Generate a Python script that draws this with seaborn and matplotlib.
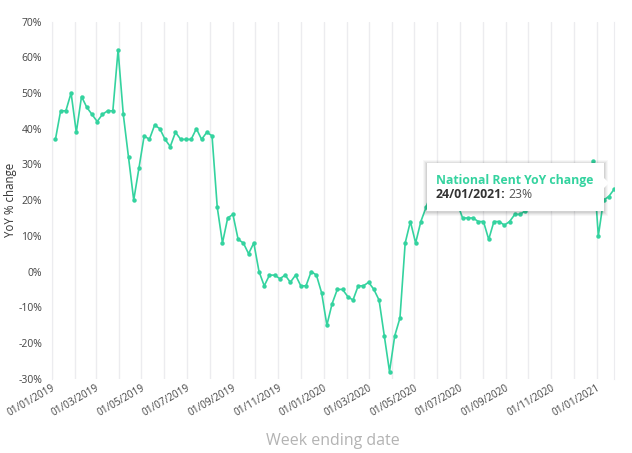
import matplotlib
matplotlib.use("Agg")
import matplotlib.pyplot as plt
import matplotlib.dates as mdates
import matplotlib.patches as mpatches
from matplotlib.ticker import FuncFormatter
import seaborn as sns
import pandas as pd

# weekly YoY change (values under the tooltip are estimates)
first_week = "2019-01-06"
yoy_change = [37, 45, 45, 50, 39, 49, 46, 44, 42, 44, 45, 45, 62, 44, 32, 20, 29, 38,
              37, 41, 40, 37, 35, 39, 37, 37, 37, 40, 37, 39, 38, 18, 8, 15, 16,
              9, 8, 5, 8, 0, -4, -1, -1, -2, -1, -3, -1, -4, -4, 0, -1, -6, -15,
              -9, -5, -5, -7, -8, -4, -4, -3, -5, -8, -18, -28, -18, -13, 8, 14, 8, 14,
              18,
              22, 23, 21, 20, 21, 19,
              15, 15, 15, 14, 14, 9, 14, 14, 13, 14, 16, 16,
              17, 18, 18, 19, 20, 20, 21, 22, 22, 21, 22, 24, 26,
              31, 10, 20, 21, 23]
y_ticks = [-30, -20, -10, 0, 10, 20, 30, 40, 50, 60, 70]
label_months = [1, 3, 5, 7, 9, 11]
tooltip_title = "National Rent YoY change"
tooltip_date = "24/01/2021:"
tooltip_value = "23%"

week_ending = pd.date_range(first_week, periods=len(yoy_change), freq="7D")
df = pd.DataFrame({"week": week_ending, "yoy": yoy_change})

GREEN = "#34d39f"
FONT = ["Open Sans", "DejaVu Sans"]

sns.set_style("white")
plt.rcParams["font.family"] = FONT

fig = plt.figure(figsize=(6.32, 4.53), dpi=100)
ax = fig.add_axes([0.0818, 0.164, 0.8897, 0.7885])

sns.lineplot(data=df, x="week", y="yoy", ax=ax, color=GREEN, linewidth=1.2,
             marker="o", markersize=3.2, markeredgewidth=0, zorder=3)

ax.set_xlim(pd.Timestamp("2019-01-01"), df["week"].iloc[-1])
ax.set_ylim(-30, 70)
ax.set_yticks(y_ticks)
ax.yaxis.set_major_formatter(FuncFormatter(lambda v, p: f"{v:.0f}%"))

ax.xaxis.set_major_locator(mdates.MonthLocator(bymonth=label_months))
ax.xaxis.set_minor_locator(mdates.MonthLocator())
ax.xaxis.set_major_formatter(mdates.DateFormatter("%d/%m/%Y"))
ax.grid(True, axis="x", which="both", color="#ececef", linewidth=1.0)
ax.grid(False, axis="y")

ax.tick_params(axis="x", which="both", length=0, labelsize=7.2, labelcolor="#444444", pad=3)
ax.tick_params(axis="y", length=4, color="#e6e6e6", labelsize=7.5, labelcolor="#444444", pad=3)
for lbl in ax.get_xticklabels():
    lbl.set_rotation(30)
    lbl.set_ha("right")
    lbl.set_rotation_mode("anchor")

for side in ["top", "bottom"]:
    ax.spines[side].set_visible(False)
for side in ["left", "right"]:
    ax.spines[side].set_visible(True)
    ax.spines[side].set_color("#ececef")

ax.set_xlabel("Week ending date", fontsize=11.5, color="#b3b3b3", labelpad=10)
ax.set_ylabel("YoY % change", fontsize=8.3, color="#333333")
ax.yaxis.set_label_coords(-0.062, 0.5)

# tooltip box (figure pixels -> fractions)
W, H = 632, 453
def fx(px):
    return px / W
def fy(py):
    return 1 - py / H

bx0, bx1, by0, by1 = 427, 604, 163, 211
for k, a in [(4, 0.03), (3, 0.04), (2, 0.05), (1, 0.06)]:
    fig.patches.append(mpatches.Rectangle((fx(bx0 - k), fy(by1 + k + 1)), fx(bx1 - bx0 + 2 * k), (by1 - by0 + 2 * k) / H,
                                          transform=fig.transFigure, facecolor="black", alpha=a,
                                          edgecolor="none", zorder=5))
fig.patches.append(mpatches.Rectangle((fx(bx0), fy(by1)), fx(bx1 - bx0), (by1 - by0) / H,
                                      transform=fig.transFigure, facecolor="white",
                                      edgecolor="none", zorder=6))
fig.patches.append(mpatches.Polygon([(fx(bx1 - 1), fy(177)), (fx(bx1 + 5), fy(183)), (fx(bx1 - 1), fy(189))],
                                    closed=True, transform=fig.transFigure, facecolor="white",
                                    edgecolor="none", zorder=6))

fig.text(fx(436), fy(180.5), tooltip_title, fontsize=8.8, fontweight="bold", color=GREEN,
         va="center", ha="left", zorder=7)
t_date = fig.text(fx(436), fy(195), tooltip_date, fontsize=8.8, fontweight="bold", color="#333333",
                  va="center", ha="left", zorder=7)
fig.canvas.draw()
bb = t_date.get_window_extent()
fig.text(bb.x1 / W + fx(3), fy(195), tooltip_value, fontsize=8.8, color="#555555",
         va="center", ha="left", zorder=7)

fig.savefig("out.png", dpi=100)
